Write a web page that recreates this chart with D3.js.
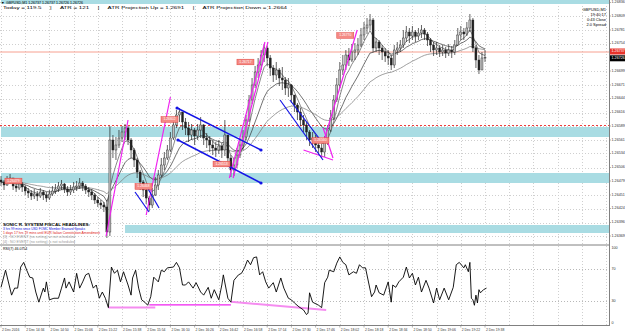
<!DOCTYPE html>
<meta charset="utf-8">
<style>
body { margin: 0; background: #fff; }
text { font-family: "Liberation Sans", Arial, sans-serif; }
</style>
<svg width="625" height="335"></svg>
<script src="https://d3js.org/d3.v7.min.js"></script>
<script>
// GBPUSD M1, drawn as 2 minute bars. minutes counted from 14:18, prices in points (1e-5)
var closes = [126477,126471,126481,126485,126469,126465,126473,126467,126459,126455,
  126449,126453,126449,126457,126451,126445,126453,126459,126463,126469,
  126473,126463,126457,126461,126467,126469,126475,126469,126461,126457,
  126451,126441,126435,126431,126427,126377,126561,126541,126551,126565,
  126577,126585,126561,126541,126521,126497,126477,126461,126445,126431,
  126451,126471,126491,126511,126525,126541,126565,126591,126611,126617,
  126597,126585,126571,126581,126569,126581,126591,126565,126561,126551,
  126545,126541,126549,126541,126571,126525,126501,126511,126531,126551,
  126567,126601,126641,126671,126697,126711,126731,126745,126725,126705,
  126691,126701,126685,126681,126665,126671,126651,126631,126617,126601,
  126591,126577,126561,126565,126551,126545,126537,126557,126581,126605,
  126641,126671,126701,126711,126731,126721,126737,126741,126751,126771,
  126785,126791,126801,126745,126757,126745,126737,126729,126725,126711,
  126741,126745,126751,126765,126777,126769,126777,126769,126775,126781,
  126773,126761,126751,126741,126745,126737,126741,126735,126741,126737,
  126751,126771,126777,126773,126785,126801,126745,126721,126701,126725,126726];
var highs = [126489,126481,126489,126493,126485,126475,126481,126477,126471,126465,
  126461,126463,126459,126465,126461,126457,126461,126469,126473,126477,
  126481,126475,126469,126471,126477,126479,126485,126479,126473,126467,
  126463,126455,126447,126441,126437,126441,126589,126571,126567,126581,
  126589,126593,126589,126565,126545,126525,126501,126481,126469,126449,
  126465,126487,126501,126525,126537,126551,126577,126605,126621,126625,
  126617,126605,126597,126593,126585,126593,126607,126593,126575,126569,
  126561,126557,126561,126555,126601,126571,126531,126525,126545,126565,
  126581,126611,126651,126685,126709,126725,126741,126753,126749,126731,
  126711,126717,126705,126707,126687,126685,126673,126651,126635,126625,
  126611,126597,126581,126577,126571,126561,126553,126569,126591,126621,
  126651,126685,126717,126731,126741,126745,126753,126755,126765,126785,
  126797,126805,126813,126805,126765,126761,126751,126745,126741,126731,
  126751,126757,126761,126781,126789,126785,126789,126781,126785,126791,
  126785,126777,126765,126757,126757,126751,126751,126747,126753,126749,
  126761,126785,126789,126785,126797,126813,126805,126751,126731,126737,126741];
var lows = [126469,126461,126469,126473,126461,126457,126461,126457,126451,126445,
  126441,126443,126439,126445,126441,126437,126441,126449,126453,126457,
  126461,126455,126449,126451,126455,126459,126463,126459,126453,126447,
  126441,126433,126427,126423,126417,126365,126369,126525,126521,126545,
  126557,126561,126551,126525,126507,126485,126461,126447,126433,126419,
  126425,126449,126461,126487,126501,126521,126537,126561,126585,126597,
  126581,126571,126557,126561,126551,126561,126565,126551,126545,126537,
  126531,126527,126533,126525,126529,126517,126487,126489,126505,126525,
  126541,126561,126597,126633,126665,126685,126701,126717,126709,126689,
  126677,126681,126669,126661,126651,126647,126635,126617,126601,126589,
  126577,126561,126549,126545,126537,126531,126525,126527,126551,126577,
  126601,126637,126665,126691,126701,126709,126717,126721,126731,126747,
  126761,126773,126781,126737,126737,126731,126721,126717,126711,126701,
  126705,126731,126737,126745,126757,126755,126761,126757,126761,126765,
  126761,126749,126737,126729,126731,126727,126729,126725,126729,126725,
  126731,126749,126761,126761,126769,126777,126737,126705,126693,126701,126717];

// RSI(7): [minute, value]
var rsiPts = [[0,47],[3,69],[7,37],[9,46],[11,46],[13,73],[15,79],[17,69],[19,60],[21,59],
  [23,41],[25,28],[28,46],[29,41],[30,54],[32,31],[35,33],[38,33],[40,46],[42,59],
  [43,46],[45,54],[48,41],[50,65],[52,46],[54,54],[56,63],[58,65],[61,46],[63,50],
  [65,33],[67,41],[69,33],[71,21],[73,73],[75,65],[77,69],[79,54],[81,67],[84,50],
  [86,37],[87,59],[89,69],[91,46],[93,31],[95,28],[97,24],[99,35],[101,60],[104,54],
  [106,69],[108,67],[110,72],[114,73],[116,79],[118,72],[120,50],[122,50],[124,54],[127,46],
  [129,53],[132,41],[134,37],[137,47],[139,33],[141,44],[144,31],[146,50],[147,63],[150,33],
  [152,28],[154,56],[157,63],[159,65],[161,72],[163,82],[165,76],[167,85],[169,86],[171,63],
  [173,67],[175,54],[177,46],[180,53],[182,41],[185,59],[187,46],[190,33],[192,31],[194,27],
  [197,22],[200,18],[202,12],[203,14],[204,40],[206,28],[210,24],[212,21],[214,53],[216,60],
  [217,69],[220,67],[222,78],[224,86],[226,79],[228,76],[230,63],[233,67],[235,65],[237,76],
  [239,72],[241,72],[245,35],[247,41],[248,50],[250,40],[253,37],[256,54],[258,28],[259,50],
  [261,47],[263,54],[266,60],[268,73],[270,59],[272,65],[274,50],[276,60],[278,41],[281,56],
  [283,46],[286,27],[288,46],[290,31],[293,46],[296,31],[299,47],[301,76],[303,79],[306,72],
  [307,76],[309,67],[310,79],[311,33],[312,31],[313,24],[314,37],[315,27],[316,44],[317,40],
  [319,44],[321,46]];

var timeLabels = ["2 Dec 2016","2 Dec 14:34","2 Dec 14:50","2 Dec 15:06","2 Dec 15:22","2 Dec 15:38",
  "2 Dec 15:54","2 Dec 16:10","2 Dec 16:26","2 Dec 16:42","2 Dec 16:58","2 Dec 17:14","2 Dec 17:30",
  "2 Dec 17:46","2 Dec 18:02","2 Dec 18:18","2 Dec 18:34","2 Dec 18:50","2 Dec 19:06","2 Dec 19:22","2 Dec 19:38"];
var priceTicks = [126836,126809,126781,126754,126699,126671,126644,126616,126589,126561,
  126534,126506,126479,126451,126424,126396,126369];
var rsiTicks = [100,70,30,0];

// zones: [from minute, to minute, low, high]
var zones = [[0,402,126833,126843],[0,402,126567,126587],[0,402,126475,126495],[82,402,126375,126391]];
// trend lines: [minute1, price1, minute2, price2]
var magentaLines = [[69.5,126369,84,126601],[96,126411,112,126647],[151,126485,174.5,126757],
  [153.5,126485,176.5,126757],[213,126555,235.5,126781],[200,126541,219.5,126521],[213,126585,219.5,126525]];
var channelLines = [[116.4,126625,171.9,126541],[117,126561,171.9,126475]];
var blueLines = [[88.6,126457,97.9,126417],[96.5,126467,104.5,126425],
  [184.5,126641,212.9,126521],[191,126641,212.2,126557]];
var priceMarks = [[2.6,126479],[105.8,126602],[88.6,126468],[140.2,126513],[156,126717],[222,126770],[205.6,126560]];
var rsiLines = [[71,21,102,21],[98,24.5,152,24.5],[152,28.5,215,18]];
var bidPrice = 126737, lastPrice = 126726, alertPrice = 126590;

var headlines = ["SONIC R. SYSTEM FISCAL HEADLINES:",
  "3 hrs 99 mins since USD FOMC Member Brainard Speaks",
  "1 days 17 hrs 19 mins until EUR Italian Constitution Amendment",
  "[3] : NO EVENT (no setting) is not scheduled",
  "[4] : NO EVENT (no setting) is not scheduled"];
var infoLines = ["GBPUSD,M1","19:40:17","0:43 Close","2.0 Spread"];

var svg = d3.select("svg");
var plotR = 609, mainBot = 244, rsiTop = 246, rsiBot = 325;

var x = d3.scaleLinear().domain([0, 320]).range([1, 485]);
var y = d3.scaleLinear().domain([126365, 126841]).range([238, 0]);
var yR = d3.scaleLinear().domain([0, 100]).range([324, 246]);
var fmt = function(p) { return (p / 1e5).toFixed(5); };

var defs = svg.append("defs");
defs.append("clipPath").attr("id", "cm").append("rect").attr("x", 0).attr("y", 0).attr("width", plotR).attr("height", mainBot);
defs.append("clipPath").attr("id", "cr").append("rect").attr("x", 0).attr("y", rsiTop).attr("width", plotR).attr("height", rsiBot - rsiTop);

var main = svg.append("g").attr("clip-path", "url(#cm)");
var sub = svg.append("g").attr("clip-path", "url(#cr)");

// grid
var gridMins = d3.range(0, 404, 16);
[main, sub].forEach(function(g, k) {
  g.selectAll("line.vg").data(gridMins).enter().append("line")
    .attr("x1", function(d) { return Math.round(x(d)) + 0.5; })
    .attr("x2", function(d) { return Math.round(x(d)) + 0.5; })
    .attr("y1", k ? rsiTop : 0).attr("y2", k ? rsiBot : mainBot)
    .attr("stroke", "#cfcfcf").attr("stroke-dasharray", "1,2");
});
main.selectAll("line.hg").data(priceTicks).enter().append("line")
  .attr("x1", 0).attr("x2", plotR)
  .attr("y1", function(d) { return Math.round(y(d)) + 0.5; })
  .attr("y2", function(d) { return Math.round(y(d)) + 0.5; })
  .attr("stroke", "#cfcfcf").attr("stroke-dasharray", "1,2");
sub.selectAll("line.hg").data([70, 30]).enter().append("line")
  .attr("x1", 0).attr("x2", plotR)
  .attr("y1", function(d) { return Math.round(yR(d)) + 0.5; })
  .attr("y2", function(d) { return Math.round(yR(d)) + 0.5; })
  .attr("stroke", "#b8b8b8").attr("stroke-dasharray", "1,2");

// zones
main.selectAll("rect.zone").data(zones).enter().append("rect")
  .attr("x", function(d) { return x(d[0]); })
  .attr("width", function(d) { return x(d[1]) - x(d[0]); })
  .attr("y", function(d) { return y(d[3]); })
  .attr("height", function(d) { return y(d[2]) - y(d[3]); })
  .attr("fill", "#a9dce3");

main.append("line").attr("x1", 0).attr("x2", plotR)
  .attr("y1", y(alertPrice)).attr("y2", y(alertPrice))
  .attr("stroke", "#ee3b3b").attr("stroke-dasharray", "2,2");
main.append("line").attr("x1", 0).attr("x2", plotR)
  .attr("y1", y(bidPrice)).attr("y2", y(bidPrice))
  .attr("stroke", "#f7a090").attr("stroke-width", 1);

// moving averages
function ema(arr, n) {
  var a = 2 / (n + 1), out = [], prev = arr[0];
  arr.forEach(function(v) { prev = prev + a * (v - prev); out.push(prev); });
  return out;
}
var maLine = d3.line().x(function(d, i) { return x(i * 2); }).y(function(d) { return y(d); });
[[5, "#555"], [13, "#333"], [34, "#777"]].forEach(function(m) {
  main.append("path").attr("d", maLine(ema(closes, m[0])))
    .attr("fill", "none").attr("stroke", m[1]).attr("stroke-width", 0.7);
});

// candles
var bars = closes.map(function(c, i) {
  var o = i ? closes[i - 1] : c + 4;
  return {m: i * 2, o: o, c: c, h: Math.max(highs[i], o, c), l: Math.min(lows[i], o, c)};
});
var cg = main.append("g");
cg.selectAll("line").data(bars).enter().append("line")
  .attr("x1", function(d) { return x(d.m); }).attr("x2", function(d) { return x(d.m); })
  .attr("y1", function(d) { return y(d.h); }).attr("y2", function(d) { return y(d.l); })
  .attr("stroke", "#222").attr("stroke-width", 0.7);
cg.selectAll("rect").data(bars).enter().append("rect")
  .attr("x", function(d) { return x(d.m) - 1; }).attr("width", 2)
  .attr("y", function(d) { return y(Math.max(d.o, d.c)); })
  .attr("height", function(d) { return Math.max(0.6, Math.abs(y(d.o) - y(d.c))); })
  .attr("fill", function(d) { return d.c >= d.o ? "#bdbdbd" : "#222"; })
  .attr("stroke", "#222").attr("stroke-width", 0.4);

// trend lines
function seg(g, data, color, w) {
  g.selectAll(null).data(data).enter().append("line")
    .attr("x1", function(d) { return x(d[0]); }).attr("y1", function(d) { return y(d[1]); })
    .attr("x2", function(d) { return x(d[2]); }).attr("y2", function(d) { return y(d[3]); })
    .attr("stroke", color).attr("stroke-width", w);
}
seg(main, magentaLines, "#f020f0", 1.2);
seg(main, blueLines, "#1414e6", 1.2);
seg(main, channelLines, "#1414e6", 1.5);
var ends = [];
channelLines.forEach(function(d) { ends.push([d[0], d[1]], [d[2], d[3]]); });
main.selectAll("circle.end").data(ends).enter().append("circle")
  .attr("cx", function(d) { return x(d[0]); }).attr("cy", function(d) { return y(d[1]); })
  .attr("r", 1.6).attr("fill", "#1414e6");

// price marks
var pm = main.selectAll("g.pm").data(priceMarks).enter().append("g")
  .attr("transform", function(d) { return "translate(" + x(d[0]) + "," + y(d[1]) + ")"; });
pm.append("rect").attr("x", 0).attr("y", -2.8).attr("width", 17).attr("height", 5.6)
  .attr("fill", "#f48a84").attr("stroke", "#e0403a").attr("stroke-width", 0.5);
pm.append("text").attr("x", 8.5).attr("y", 0).attr("text-anchor", "middle").attr("dominant-baseline", "middle")
  .attr("font-size", 3.4).attr("fill", "#fff").text(function(d) { return fmt(d[1]); });

// RSI
sub.selectAll(null).data(rsiLines).enter().append("line")
  .attr("x1", function(d) { return x(d[0]); }).attr("y1", function(d) { return yR(d[1]); })
  .attr("x2", function(d) { return x(d[2]); }).attr("y2", function(d) { return yR(d[3]); })
  .attr("stroke", function(d, i) { return i === 1 ? "#f020f0" : "#f58cf0"; })
  .attr("stroke-width", function(d, i) { return i === 1 ? 1.2 : 2; });
sub.append("path")
  .attr("d", d3.line().x(function(d) { return x(d[0]); }).y(function(d) { return yR(d[1]); })(rsiPts))
  .attr("fill", "none").attr("stroke", "#000").attr("stroke-width", 0.9);

// frame
svg.append("line").attr("x1", plotR + 0.5).attr("x2", plotR + 0.5).attr("y1", 0).attr("y2", rsiBot)
  .attr("stroke", "#808080");
svg.append("line").attr("x1", 0).attr("x2", plotR).attr("y1", mainBot + 1).attr("y2", mainBot + 1)
  .attr("stroke", "#808080");
svg.append("line").attr("x1", 0).attr("x2", plotR + 1).attr("y1", rsiBot + 0.5).attr("y2", rsiBot + 0.5)
  .attr("stroke", "#808080");

// price axis
var pa = svg.append("g");
pa.selectAll("text").data(priceTicks).enter().append("text")
  .attr("x", 611.5).attr("y", function(d) { return y(d); }).attr("dominant-baseline", "middle")
  .attr("font-size", 3.7).attr("fill", "#333").text(fmt);
pa.selectAll("line").data(priceTicks).enter().append("line")
  .attr("x1", plotR).attr("x2", plotR + 2)
  .attr("y1", function(d) { return y(d); }).attr("y2", function(d) { return y(d); })
  .attr("stroke", "#808080").attr("stroke-width", 0.6);
[[bidPrice, "#e8332a"], [lastPrice, "#000"]].forEach(function(t, k) {
  var cy = y(t[0]) + (k ? 0.8 : -0.5);
  pa.append("rect").attr("x", plotR + 1).attr("y", cy - 3).attr("width", 16).attr("height", 6).attr("fill", t[1]);
  pa.append("text").attr("x", 611.5).attr("y", cy).attr("dominant-baseline", "middle")
    .attr("font-size", 3.7).attr("fill", "#fff").text(fmt(t[0]));
});
pa.selectAll("text.r").data(rsiTicks).enter().append("text")
  .attr("x", 611.5).attr("y", function(d) { return d === 100 ? yR(d) + 2 : d === 0 ? yR(d) - 1 : yR(d); })
  .attr("dominant-baseline", "middle").attr("font-size", 3.7).attr("fill", "#333").text(function(d) { return d; });

// time axis
var ta = svg.append("g");
ta.selectAll("text").data(timeLabels).enter().append("text")
  .attr("x", function(d, i) { return x(i * 16) + 1; }).attr("y", 330)
  .attr("dominant-baseline", "middle").attr("font-size", 3.4).attr("fill", "#333").text(function(d) { return d; });
ta.selectAll("line").data(timeLabels).enter().append("line")
  .attr("x1", function(d, i) { return x(i * 16); }).attr("x2", function(d, i) { return x(i * 16); })
  .attr("y1", rsiBot).attr("y2", rsiBot + 2.5).attr("stroke", "#808080").attr("stroke-width", 0.6);

// header texts
svg.append("text").attr("x", 1).attr("y", 2.8).attr("dominant-baseline", "middle").attr("font-size", 3.6)
  .attr("fill", "#000").text("\u25BC");
svg.append("text").attr("x", 6).attr("y", 2.8).attr("dominant-baseline", "middle").attr("font-size", 3.8)
  .attr("fill", "#000").attr("textLength", 77).attr("lengthAdjust", "spacingAndGlyphs")
  .text("GBPUSD,M1  1.26737 1.26737 1.26726 1.26726");
svg.append("text").attr("x", 3).attr("y", 7.6).attr("dominant-baseline", "middle").attr("font-size", 4)
  .attr("fill", "#000").attr("textLength", 284).attr("lengthAdjust", "spacingAndGlyphs")
  .attr("xml:space", "preserve")
  .text("Today = 119.5     |     ATR = 121     |     ATR Projection Up = 1.2691     |     ATR Projection Down = 1.2664");
svg.selectAll("text.info").data(infoLines).enter().append("text")
  .attr("x", 606).attr("y", function(d, i) { return 10 + i * 5; }).attr("text-anchor", "end")
  .attr("dominant-baseline", "middle").attr("font-size", 4).attr("fill", "#000").text(function(d) { return d; });

var hlColors = ["#000", "#1010e0", "#e01818", "#999", "#999"];
var hlWidths = [87, 82, 97, 72, 72];
svg.selectAll("text.hl").data(headlines).enter().append("text")
  .attr("x", 3).attr("y", function(d, i) { return 224.5 + i * 4.3; })
  .attr("dominant-baseline", "middle").attr("font-size", function(d, i) { return i ? 3.4 : 4; })
  .attr("font-weight", function(d, i) { return i ? "normal" : "bold"; })
  .attr("fill", function(d, i) { return hlColors[i]; })
  .attr("textLength", function(d, i) { return hlWidths[i]; }).attr("lengthAdjust", "spacingAndGlyphs")
  .text(function(d) { return d; });

svg.append("text").attr("x", 3).attr("y", 249.5).attr("dominant-baseline", "middle").attr("font-size", 3.6)
  .attr("fill", "#000").text("RSI(7) 46.0754");
</script>
